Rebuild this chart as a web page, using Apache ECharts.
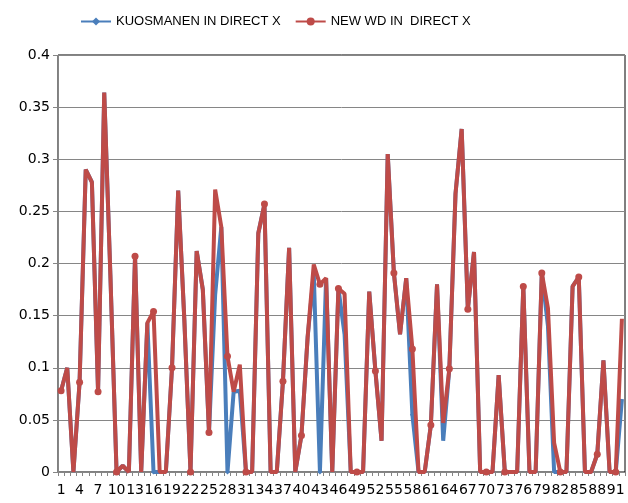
<!DOCTYPE html>
<html>
<head>
<meta charset="utf-8">
<script src="https://cdn.jsdelivr.net/npm/echarts@6/dist/echarts.min.js"></script>
<style>
  html, body { margin: 0; padding: 0; background: #fff; }
  #chart { width: 628px; height: 503px; }
</style>
</head>
<body>
<div id="chart"></div>
<script>
// 92 categories, labelled 1..92
var categories = [];
for (var i = 1; i <= 92; i++) categories.push(String(i));

var newWd = [
    0.078, 0.100, 0, 0.086, 0.290, 0.278, 0.077, 0.364, 0.189, 0,
    0.006, 0, 0.207, 0, 0.143, 0.154, 0, 0, 0.100, 0.270,
    0.146, 0, 0.212, 0.175, 0.038, 0.271, 0.235, 0.111, 0.077, 0.103,
    0, 0, 0.229, 0.257, 0, 0, 0.087, 0.215, 0, 0.035,
    0.129, 0.199, 0.180, 0.186, 0, 0.176, 0.171, 0, 0, 0,
    0.173, 0.097, 0.030, 0.305, 0.191, 0.132, 0.186, 0.118, 0, 0,
    0.045, 0.180, 0.047, 0.099, 0.267, 0.329, 0.156, 0.211, 0, 0,
    0, 0.093, 0, 0, 0, 0.178, 0, 0, 0.191, 0.157,
    0.028, 0, 0, 0.178, 0.187, 0, 0, 0.017, 0.107, 0,
    0, 0.147
];

var kuosmanen = [
    0.078, 0.100, 0, 0.086, 0.290, 0.278, 0.077, 0.364, 0.189, 0,
    0.006, 0, 0.207, 0, 0.143, 0, 0, 0, 0.100, 0.270,
    0.146, 0, 0.212, 0.175, 0.038, 0.170, 0.235, 0, 0.077, 0.078,
    0, 0, 0.229, 0.257, 0, 0, 0.087, 0.215, 0, 0.035,
    0.129, 0.190, 0, 0.186, 0, 0.176, 0.132, 0, 0, 0,
    0.173, 0.097, 0.030, 0.305, 0.191, 0.132, 0.186, 0.055, 0, 0,
    0.045, 0.180, 0.030, 0.099, 0.267, 0.329, 0.156, 0.211, 0, 0,
    0, 0.093, 0, 0, 0, 0.178, 0, 0, 0.191, 0.140,
    0, 0, 0, 0.178, 0.187, 0, 0, 0.017, 0.107, 0,
    0, 0.070
];

var myChart = echarts.init(document.getElementById('chart'));
var option = {
    animation: false,
    backgroundColor: '#fff',
    textStyle: { fontFamily: 'DejaVu Sans' },
    legend: {
        top: 10,
        left: 75,
        itemWidth: 30,
        itemHeight: 10,
        itemGap: 14,
        textStyle: { fontSize: 13, color: '#000', fontFamily: 'Liberation Sans' },
        data: ['KUOSMANEN IN DIRECT X', 'NEW WD IN  DIRECT X']
    },
    grid: {
        left: 58,
        right: 3,
        top: 55,
        bottom: 31,
        show: true,
        borderColor: '#000',
        borderWidth: 1
    },
    xAxis: {
        type: 'category',
        data: categories,
        boundaryGap: true,
        axisLine: { lineStyle: { color: '#868686', width: 1 } },
        axisTick: { show: true, interval: 0, length: 4, lineStyle: { color: '#868686' } },
        axisLabel: { interval: 2, color: '#000', fontSize: 14, margin: 11, fontFamily: 'DejaVu Sans' },
        splitLine: { show: false }
    },
    yAxis: {
        type: 'value',
        min: 0,
        max: 0.4,
        interval: 0.05,
        axisLine: { show: true, lineStyle: { color: '#868686', width: 1 } },
        axisTick: { show: true, length: 5, lineStyle: { color: '#868686' } },
        axisLabel: { color: '#000', fontSize: 14, margin: 8, fontFamily: 'DejaVu Sans' },
        splitLine: { show: true, lineStyle: { color: '#868686', width: 1 } }
    },
    series: [
        {
            name: 'KUOSMANEN IN DIRECT X',
            type: 'line',
            data: kuosmanen,
            symbol: 'diamond',
            symbolSize: 5,
            color: '#4A7EBB',
            lineStyle: { width: 4, color: '#4A7EBB' },
            itemStyle: { color: '#4A7EBB' },
            z: 2
        },
        {
            name: 'NEW WD IN  DIRECT X',
            type: 'line',
            data: newWd,
            symbol: 'circle',
            symbolSize: 7,
            color: '#BE4B48',
            lineStyle: { width: 4, color: '#BE4B48' },
            itemStyle: { color: '#BE4B48' },
            z: 3
        }
    ]
};
myChart.setOption(option);
</script>
</body>
</html>
